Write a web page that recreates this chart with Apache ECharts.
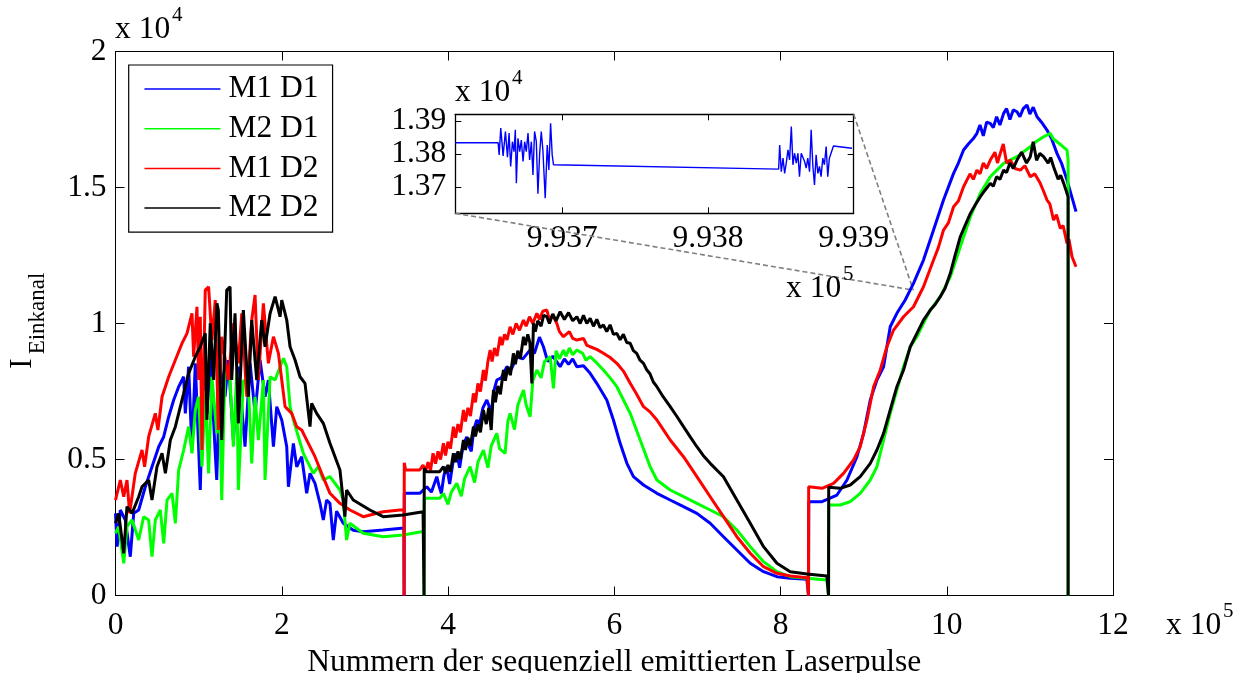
<!DOCTYPE html>
<html>
<head>
<meta charset="utf-8">
<script src="https://cdn.jsdelivr.net/npm/echarts@6/dist/echarts.min.js"></script>
<style>html,body{margin:0;padding:0;background:#fff}#c{width:1247px;height:673px}</style>
</head>
<body>
<div id="c"></div>
<script>
const seriesNames = ['M1 D1', 'M2 D1', 'M1 D2', 'M2 D2'];
const seriesColors = ['#0000ff', '#00ff00', '#ff0000', '#000000'];
const xAxisTitle = 'Nummern der sequenziell emittierten Laserpulse';
const yAxisTitleMain = 'I';
const yAxisTitleSub = 'Einkanal';
const insetXTicks = [993700, 993800, 993900];
const insetYTicks = [13700, 13800, 13900];
const insetXRange = [993626.6, 993900];
const insetYRange = [13620, 13920];
const zoomTarget = [959700, 11230];

const m1d1 = [
[0,3021],[2000,1795],[5800,3143],[11800,2775],[17800,1427],[21900,3021],[27900,3143],[35900,3999],[43900,4735],[52000,5470],[58000,5838],[64000,6573],[70000,7187],[76000,7676],[82000,8043],[84000,6697],[88000,8411],[92000,5349],[96000,8536],[102000,3878],[106000,8657],[110000,6697],[114000,8779],[120000,5227],[121800,4246],[125800,8411],[131800,7308],[135800,8657],[141800,5716],[147800,8411],[155800,5470],[161900,8536],[167900,6697],[173900,8657],[179900,7308],[183900,7922],[190000,5470],[194000,6942],[200000,6452],[206000,5470],[208000,3999],[214000,5594],[218000,4735],[224000,5103],[230000,3757],[234000,4492],[240000,4124],[246000,3389],[250000,2775],[254000,3510],[258000,3389],[262000,2040],[266000,3100],[274000,2654],[286000,2400],[298000,2346],[322000,2408],[344000,2470],[347000,2470],[347200,0],
[347400,3757],[366000,3757],[374500,3999],[380000,3800],[386500,4368],[389000,4050],[392000,3750],[395000,4400],[398500,4735],[402000,4100],[406000,4900],[410600,5227],[414000,4700],[418000,5500],[422600,5838],[425000,5500],[428000,5300],[431000,6100],[434700,6452],[438000,6300],[442000,6900],[446700,7187],[449000,7000],[452000,6700],[455000,7500],[458700,7922],[464000,8000],[470800,8411],[476000,8300],[482800,8779],[490000,8700],[498800,9025],[504000,8900],[510000,9500],[514800,9146],[520000,8600],[526000,8800],[534900,8411],[540000,8700],[545000,8500],[550000,8700],[555000,8411],[563000,8450],[571000,8168],[579000,7800],[591000,7187],[599000,6452],[607100,5594],[615200,4859],[623100,4368],[635200,4062],[651300,3757],[667300,3510],[683300,3265],[699400,3021],[715400,2654],[731400,2162],[747500,1673],[763600,1184],[779600,876],[795700,692],[811700,631],[831800,594],[833700,594],[833700,0],
[834000,3449],[850000,3449],[867900,3694],[880000,4246],[892000,5103],[900000,5962],[908000,7187],[916000,7922],[924000,8411],[932000,9881],[940000,10374],[950000,10863],[960000,11476],[972000,12333],[984100,13436],[996100,14539],[1008200,15519],[1014000,15900],[1020200,16377],[1026000,16600],[1032000,16800],[1036300,16991],[1040000,17300],[1044000,16900],[1048000,17400],[1052400,17358],[1056000,17200],[1060000,17600],[1064000,17300],[1068400,17726],[1072000,17900],[1076000,17500],[1080000,17850],[1084500,17785],[1088000,17600],[1092000,17900],[1096500,18031],[1100000,17700],[1104000,17950],[1108600,17602],[1114000,17400],[1120600,17113],[1126000,16800],[1132600,16255],[1138000,15900],[1144700,15274],[1152700,14417],[1155500,14110]
];

const m2d1 = [
[0,2286],[3800,2529],[9900,1184],[13800,2529],[19900,2775],[27900,2040],[33900,2897],[39900,2775],[43900,1427],[47900,2775],[53900,3143],[58000,1919],[62000,3510],[68000,3757],[72000,2654],[76000,4613],[82000,5349],[88000,6207],[92000,5227],[96000,6819],[100000,7308],[104000,4735],[108000,7554],[112000,4492],[116000,8043],[122000,5962],[124000,8536],[127800,3510],[131800,8411],[137800,7922],[141800,5470],[145800,8168],[147800,3878],[153800,7922],[159900,7676],[163900,4859],[167900,7308],[171900,5716],[177900,7922],[179900,4246],[186000,8043],[192000,7922],[198000,8411],[202000,8718],[206000,8411],[210000,6942],[214000,6452],[220000,5838],[226000,5227],[232000,4859],[238000,4492],[244000,4735],[250000,4246],[258000,4368],[270000,3878],[274000,3500],[278000,2040],[282000,2654],[298000,2286],[322000,2162],[346000,2224],[368000,2346],[371000,2346],[371200,0],
[371400,3573],[390000,3573],[394500,3757],[400000,3350],[404000,3800],[410600,4124],[416000,3650],[420000,4300],[426600,4735],[432000,4150],[436000,4900],[442600,5349],[448000,4700],[452000,5500],[458700,5962],[462000,5400],[468700,5227],[472000,6400],[474700,6697],[480000,6100],[484000,7000],[490800,7554],[494000,7000],[498800,6573],[502000,7900],[506900,8290],[512000,8000],[516000,8600],[522900,8779],[526900,7617],[530000,9000],[534000,8700],[538900,9025],[542000,8800],[546000,9100],[550000,8850],[555000,9025],[562000,8900],[566000,8650],[571000,8779],[579000,8550],[587000,8290],[595000,8000],[603100,7676],[619200,6697],[631200,5716],[643200,4735],[651300,4246],[667300,3878],[683300,3632],[699400,3389],[715400,3143],[731400,2897],[747500,2408],[763600,1795],[779600,1244],[795700,876],[811700,692],[831800,631],[855800,570],[857800,570],[857800,0],
[858000,3327],[872000,3327],[883900,3449],[895900,3757],[908000,4246],[916000,4735],[924000,5716],[932000,6697],[940000,7554],[948000,8411],[956100,9146],[964100,9514],[972000,10006],[980200,10495],[992200,10986],[1004300,11719],[1016300,12822],[1028400,13925],[1040400,14784],[1052400,15396],[1068400,15887],[1084500,16132],[1100500,16500],[1108000,16700],[1116500,16865],[1124600,16991],[1128000,16800],[1132600,16683],[1138000,16550],[1144700,16377],[1146000,16009],[1146000,0]
];

const m1d2 = [
[0,3510],[5800,4246],[9900,3632],[13800,4246],[17000,3021],[23800,4492],[31900,5349],[35000,4735],[39900,5838],[47900,6697],[51000,6084],[56000,7308],[64000,8043],[72000,8657],[80000,9271],[86000,9638],[92000,10374],[94000,8779],[98000,10616],[100000,7922],[102000,10249],[104000,5349],[108000,11230],[112000,11351],[116000,9392],[120000,10863],[123700,6084],[127800,9514],[135800,7922],[141800,10006],[147800,8536],[151900,10374],[157900,7308],[163900,10127],[167900,11046],[171900,7922],[177900,10741],[183900,8536],[190000,9514],[196000,8903],[200000,7922],[204000,6942],[212000,6697],[218000,6207],[224000,6084],[232000,5594],[240000,5103],[248000,4492],[258000,3757],[270000,3389],[282000,3143],[298000,2897],[322000,3081],[342000,3143],[347000,3143],[347200,0],
[347400,4883],[349000,4613],[366000,4613],[370000,4797],[373000,4550],[376000,4900],[379000,4600],[382000,5227],[385000,4850],[388000,5300],[391000,5000],[394500,5594],[397000,5150],[400000,5650],[403000,5400],[406500,6207],[409000,5800],[412000,6300],[415000,6000],[418600,6819],[421000,6400],[424000,6900],[427000,6600],[430600,7432],[433000,7100],[436000,7800],[439000,7500],[442600,8290],[445000,7900],[448000,8600],[450700,9025],[453000,8600],[456000,9100],[459000,8800],[462700,9514],[465000,9200],[468000,9600],[471000,9400],[474700,9881],[478000,9600],[482000,10000],[486000,9750],[490800,10127],[494000,9900],[498000,10250],[502000,10000],[506900,10374],[510000,10150],[514000,10450],[518900,10495],[522000,10150],[526000,10300],[530900,10006],[534000,9700],[538900,9514],[546000,9700],[550000,9450],[555000,9392],[563000,9450],[567000,9200],[571000,9146],[579000,9050],[587000,8903],[595000,8750],[603100,8536],[611000,8250],[619200,7800],[627000,7400],[635200,6942],[643000,6750],[651300,6452],[659000,6100],[667300,5716],[683300,5103],[699400,4368],[715400,3632],[731400,2897],[747500,2162],[763600,1551],[779600,1059],[795700,816],[811700,717],[831800,654],[833700,654],[833700,0],
[833900,3999],[836000,3940],[850000,3940],[863800,4124],[875800,4492],[887900,4981],[895900,5470],[904000,6452],[912000,7676],[920000,8290],[928000,9146],[936000,9760],[948000,10249],[960000,10616],[972000,11351],[984100,12333],[990000,12800],[996100,13436],[1002000,13700],[1008200,14293],[1014000,14500],[1020200,15028],[1028000,15500],[1032000,15300],[1036300,15641],[1040000,15500],[1044000,15900],[1048000,15700],[1052400,16009],[1058000,16300],[1061000,15900],[1064400,16255],[1068000,16600],[1072000,15900],[1076400,16009],[1082000,15700],[1088500,15641],[1094000,15800],[1100500,15396],[1106000,15500],[1112500,15152],[1116000,14900],[1120600,14539],[1124000,14400],[1128500,13803],[1132000,14000],[1136600,13500],[1140000,13600],[1144700,12946],[1147000,13100],[1150700,12454],[1155500,12087]
];

const m2d2 = [
[0,2654],[3800,3021],[9900,1551],[13800,3265],[19900,3021],[27900,3632],[31900,3999],[39900,4246],[43900,3510],[49900,4735],[56000,5227],[60000,4492],[66000,5716],[72000,6207],[76000,6697],[82000,7432],[88000,8168],[96000,8779],[102000,9146],[108000,9638],[110000,6452],[114000,10006],[118000,7922],[122000,10741],[123700,10495],[127800,5716],[133800,11230],[137800,11351],[139800,7922],[143800,10374],[147800,6330],[153800,10495],[159900,7308],[163900,10127],[169900,7922],[175900,10127],[179900,9146],[186000,10374],[192000,10986],[198000,10249],[200000,10863],[206000,10127],[210000,9146],[216000,8657],[222000,8043],[228000,7800],[234000,6207],[236000,7065],[242000,6697],[250000,6330],[258000,5594],[270000,4613],[276000,2900],[278000,3878],[286000,3510],[306000,3143],[322000,2897],[346000,2959],[370000,3081],[371000,3081],[371200,0],
[371400,4676],[374000,4551],[390000,4551],[394500,4735],[397000,4500],[400000,4800],[403000,4550],[406500,5227],[409000,4900],[412000,5300],[415000,5000],[418600,5716],[421000,5350],[424000,5800],[427000,5500],[430600,6207],[433000,5850],[436000,6300],[439000,6000],[442600,6819],[446000,6300],[449000,6900],[452000,6084],[454700,7554],[457000,7100],[460000,7700],[463000,7400],[466700,8290],[469000,7900],[472000,8400],[475000,8100],[478700,8903],[481000,8500],[484000,9000],[487000,8700],[490800,9514],[493000,9200],[496000,9600],[498500,9300],[500900,7800],[502800,10006],[505000,9700],[508000,10100],[512000,9900],[515000,10300],[518900,10249],[522000,10000],[526000,10350],[530000,10100],[534900,10433],[540000,10150],[545000,10400],[550000,10100],[555000,10249],[559000,10000],[563000,10300],[567000,10000],[571000,10190],[575000,9900],[579000,10150],[583000,9850],[587000,9944],[591000,9700],[595000,9950],[599000,9600],[603100,9638],[607000,9400],[611000,9600],[615000,9300],[619200,9271],[623000,9000],[627000,8900],[631000,8650],[635200,8536],[639000,8300],[643000,8150],[647000,7850],[651300,7676],[659000,7300],[667300,6942],[675000,6600],[683300,6207],[691000,5850],[699400,5470],[707000,5150],[715400,4859],[731400,4368],[747500,3510],[763600,2654],[779600,1795],[795700,1184],[811700,876],[831800,790],[855800,717],[857800,717],[857800,0],
[858000,3977],[860000,3940],[872000,3940],[883900,4062],[895900,4368],[908000,4859],[916000,5349],[924000,5962],[932000,6819],[940000,7676],[948000,8290],[956100,9146],[964100,9638],[972000,10127],[980200,10495],[986000,10700],[992200,10986],[998000,11300],[1004300,11843],[1010000,12500],[1016300,13189],[1022000,13600],[1028400,14049],[1034000,14350],[1040400,14661],[1046000,14900],[1052400,15152],[1056000,15050],[1060000,15400],[1064000,15300],[1068400,15641],[1072000,15550],[1076000,15900],[1080000,15700],[1084500,16009],[1090000,16300],[1096000,15900],[1100500,16132],[1104000,16683],[1108000,16000],[1112000,16250],[1116500,16132],[1122000,15900],[1125000,16100],[1128500,15764],[1134000,15300],[1137000,15450],[1140700,15152],[1146000,14661],[1146000,0]
];

const insetM1D1 = [
[993626.6,13834],[993656.0,13834],[993656.7,13797],[993657.8,13878],[993659.4,13794],[993661.0,13868],[993662.4,13790],[993663.5,13863],[993664.6,13762],[993665.8,13837],[993666.9,13807],[993667.8,13873],[993668.5,13711],[993669.6,13847],[993670.8,13807],[993671.9,13842],[993673.1,13777],[993674.2,13837],[993675.3,13807],[993676.5,13863],[993677.6,13782],[993678.8,13837],[993679.9,13736],[993681.0,13868],[993682.2,13837],[993683.3,13679],[993684.5,13802],[993685.6,13868],[993686.7,13812],[993688.3,13666],[993689.7,13827],[993690.8,13751],[993692.0,13893],[993693.1,13797],[993694.0,13767],
[993848.5,13754],[993849.2,13827],[993850.3,13746],[993851.5,13787],[993852.6,13741],[993853.7,13772],[993854.9,13812],[993856.0,13782],[993857.2,13883],[993858.3,13767],[993859.4,13802],[993860.6,13772],[993861.7,13802],[993862.8,13731],[993864.0,13802],[993865.1,13797],[993866.3,13777],[993867.4,13757],[993868.5,13787],[993869.7,13746],[993870.8,13873],[993872.0,13762],[993873.1,13706],[993874.2,13797],[993875.4,13741],[993876.5,13762],[993877.6,13731],[993878.8,13787],[993879.9,13767],[993881.1,13822],[993882.2,13731],[993883.3,13787],[993884.5,13782],[993886.1,13824],[993898.8,13817]
];

const FONT = 'Liberation Serif';
const FS = 31.5;
const mainData = [m1d1, m2d1, m1d2, m2d2];

function mirrorAxis(base, extra) { return Object.assign({}, base, extra); }

const mainX = {
  type: 'value', gridIndex: 0, min: 0, max: 1200000, interval: 200000,
  axisLine: { show: true, onZero: false, lineStyle: { color: '#000', width: 1 } },
  axisTick: { show: true, inside: true, length: 9, lineStyle: { color: '#000' } },
  splitLine: { show: false }
};
const mainY = {
  type: 'value', gridIndex: 0, min: 0, max: 20000, interval: 5000,
  axisLine: { show: true, onZero: false, lineStyle: { color: '#000', width: 1 } },
  axisTick: { show: true, inside: true, length: 9, lineStyle: { color: '#000' } },
  splitLine: { show: false }
};
const insetX = {
  type: 'value', gridIndex: 1, min: insetXRange[0], max: insetXRange[1],
  axisLine: { show: true, onZero: false, lineStyle: { color: '#000', width: 1.3 } },
  axisTick: { show: true, inside: true, length: 6, customValues: insetXTicks, lineStyle: { color: '#000' } },
  splitLine: { show: false }
};
const insetY = {
  type: 'value', gridIndex: 1, min: insetYRange[0], max: insetYRange[1],
  axisLine: { show: true, onZero: false, lineStyle: { color: '#000', width: 1.3 } },
  axisTick: { show: true, inside: true, length: 6, customValues: insetYTicks, lineStyle: { color: '#000' } },
  splitLine: { show: false }
};

const chart = echarts.init(document.getElementById('c'), null, { renderer: 'canvas' });

const option = {
  animation: false,
  backgroundColor: '#fff',
  textStyle: { fontFamily: FONT },
  grid: [
    { left: 115.5, right: 134, top: 51.5, bottom: 77.5, show: false, containLabel: false, outerBoundsMode: 'none' },
    { left: 455.3, top: 114.3, width: 398.4, height: 99, show: true, backgroundColor: '#fff', borderWidth: 0, containLabel: false, outerBoundsMode: 'none' }
  ],
  legend: {
    data: seriesNames,
    orient: 'vertical',
    left: 128.7, top: 65,
    padding: [8, 14, 8, 15],
    itemWidth: 76, itemHeight: 30, itemGap: 7.7,
    backgroundColor: '#fff', borderColor: '#000', borderWidth: 1.2,
    textStyle: { fontFamily: FONT, fontSize: FS, color: '#000', lineHeight: 30, padding: [0, 0, 0, 3] },
    lineStyle: { width: 1.5 },
    itemStyle: { opacity: 0 }
  },
  xAxis: [
    mirrorAxis(mainX, {
      position: 'bottom',
      axisLabel: { show: true, margin: 14, fontFamily: FONT, fontSize: FS, color: '#000', formatter: v => String(v / 100000) },
      name: xAxisTitle, nameLocation: 'middle', nameGap: 46,
      nameTextStyle: { fontFamily: FONT, fontSize: FS, color: '#000' }
    }),
    mirrorAxis(mainX, { position: 'top', axisLabel: { show: false } }),
    mirrorAxis(insetX, {
      position: 'bottom',
      axisLabel: { show: true, margin: 9, fontFamily: FONT, fontSize: FS, color: '#000', customValues: insetXTicks, formatter: v => (v / 100000).toFixed(3) }
    }),
    mirrorAxis(insetX, { position: 'top', axisLabel: { show: false } })
  ],
  yAxis: [
    mirrorAxis(mainY, {
      position: 'left',
      axisLabel: { show: true, margin: 9, fontFamily: FONT, fontSize: FS, color: '#000', formatter: v => String(v / 10000) }
    }),
    mirrorAxis(mainY, { position: 'right', axisLabel: { show: false } }),
    mirrorAxis(insetY, {
      position: 'left',
      axisLabel: { show: true, margin: 9, fontFamily: FONT, fontSize: FS, color: '#000', customValues: insetYTicks, formatter: v => (v / 10000).toFixed(2) }
    }),
    mirrorAxis(insetY, { position: 'right', axisLabel: { show: false } })
  ],
  series: mainData.map((d, i) => ({
    name: seriesNames[i], type: 'line', xAxisIndex: 0, yAxisIndex: 0,
    data: d, symbol: 'none', showSymbol: false,
    lineStyle: { color: seriesColors[i], width: 3 },
    itemStyle: { color: seriesColors[i] },
    z: 2 + i
  })).concat([{
    name: 'inset', type: 'line', xAxisIndex: 2, yAxisIndex: 2,
    data: insetM1D1, symbol: 'none', showSymbol: false,
    lineStyle: { color: seriesColors[0], width: 1.4 }, z: 10
  }])
};
chart.setOption(option);

function sup(base, exp, x, y) {
  return [
    { type: 'text', x: x, y: y, style: { text: base, font: FS + 'px "' + FONT + '"', fill: '#000', align: 'left', verticalAlign: 'middle' }, z: 20 },
    { type: 'text', x: x + 57, y: y - 15, style: { text: exp, font: '21px "' + FONT + '"', fill: '#000', align: 'left', verticalAlign: 'middle' }, z: 20 }
  ];
}

const p0 = chart.convertToPixel({ gridIndex: 0 }, zoomTarget);
const pBL = chart.convertToPixel({ gridIndex: 1 }, [insetXRange[0], insetYRange[0]]);
const pTR = chart.convertToPixel({ gridIndex: 1 }, [insetXRange[1], insetYRange[1]]);
const dash = { stroke: '#808080', lineWidth: 1.6, lineDash: [5, 3] };

chart.setOption({
  graphic: [
    { type: 'line', shape: { x1: pBL[0], y1: pBL[1], x2: p0[0], y2: p0[1] }, style: dash, z: 1 },
    { type: 'line', shape: { x1: pTR[0], y1: pTR[1], x2: p0[0], y2: p0[1] }, style: dash, z: 1 },
    { type: 'text', x: 22.5, y: 363.5, rotation: Math.PI / 2, style: { text: yAxisTitleMain, font: '31px "' + FONT + '"', fill: '#000', align: 'center', verticalAlign: 'middle' }, z: 20 },
    { type: 'text', x: 37.5, y: 313.5, rotation: Math.PI / 2, style: { text: yAxisTitleSub, font: '23px "' + FONT + '"', fill: '#000', align: 'center', verticalAlign: 'middle' }, z: 20 }
  ].concat(
    sup('x 10', '4', 115, 30),
    sup('x 10', '5', 1166, 626),
    sup('x 10', '4', 455, 93),
    sup('x 10', '5', 786, 289)
  )
});
</script>
</body>
</html>
